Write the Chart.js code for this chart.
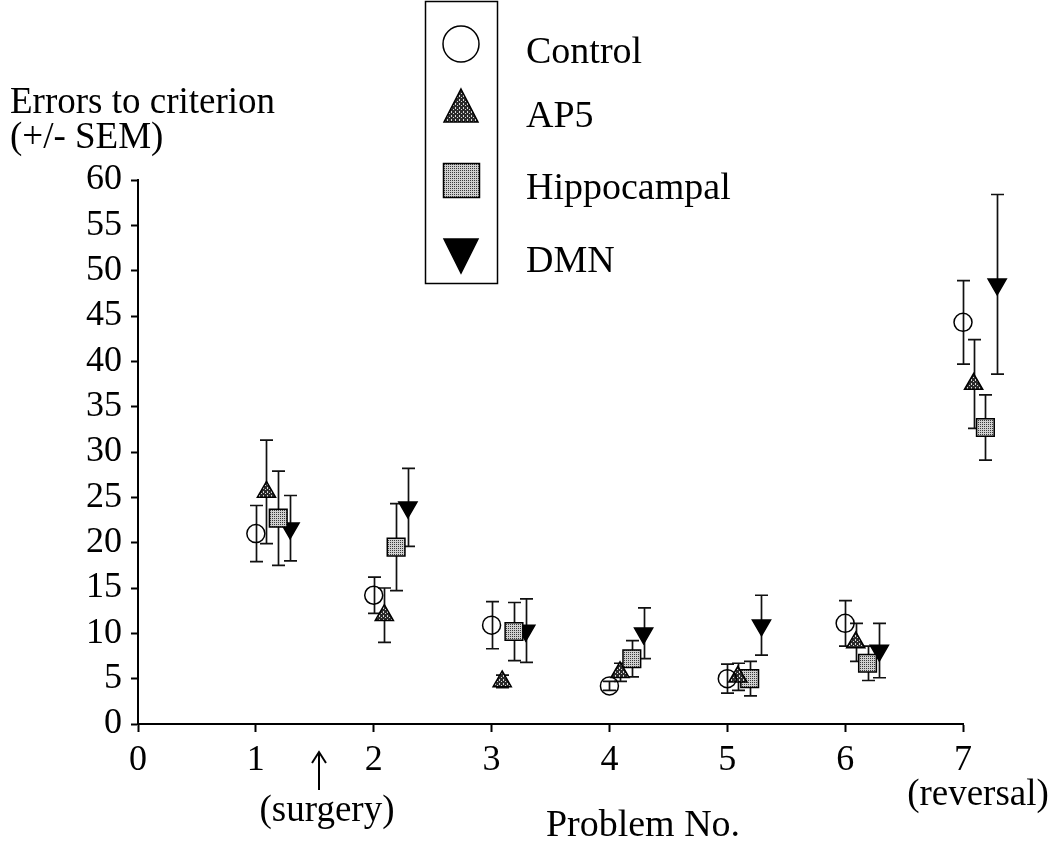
<!DOCTYPE html>
<html>
<head>
<meta charset="utf-8">
<title>Errors to criterion</title>
<script src="https://cdn.jsdelivr.net/npm/chart.js@4.4.0/dist/chart.umd.min.js"></script>
<style>
  html, body { margin: 0; padding: 0; background: #fff; }
  #wrap { width: 1055px; height: 848px; }
</style>
</head>
<body>
<div id="wrap"><canvas id="myChart" width="1055" height="848"></canvas></div>
<script>
// problem numbers and group means / SEM per problem
var problems = [1, 2, 3, 4, 5, 6, 7];
var groupNames = ['Control', 'AP5', 'Hippocampal', 'DMN'];
var groupOffsets = [0, 0.09, 0.19, 0.29];

var controlMeans = [21.0, 14.2, 10.9, 4.2, 5.0, 11.1, 44.3];
var controlSem   = [3.1, 2.0, 2.6, 0.5, 1.6, 2.5, 4.6];
var ap5Means     = [25.6, 12.0, 4.7, 5.7, 5.2, 9.0, 37.5];
var ap5Sem       = [5.7, 3.0, 0.7, 1.0, 1.5, 2.1, 4.9];
var hippMeans    = [22.7, 19.5, 10.2, 7.2, 5.0, 6.7, 32.7];
var hippSem      = [5.2, 4.8, 3.2, 2.0, 1.9, 1.9, 3.6];
var dmnMeans     = [21.6, 23.9, 10.3, 10.0, 10.9, 8.1, 48.5];
var dmnSem       = [3.6, 4.3, 3.5, 2.8, 3.3, 3.0, 9.9];

var xTickLabels = ['0', '1', '2', '3', '4', '5', '6', '7'];
var yTickLabels = ['0', '5', '10', '15', '20', '25', '30', '35', '40', '45', '50', '55', '60'];

var serif = '"Liberation Serif", "Times New Roman", serif';

function makePattern(bg, fg, dots) {
    var c = document.createElement('canvas');
    c.width = 4; c.height = 4;
    var g = c.getContext('2d');
    g.fillStyle = bg;
    g.fillRect(0, 0, 4, 4);
    g.fillStyle = fg;
    dots.forEach(function (d) { g.fillRect(d[0], d[1], 1, 1); });
    return g.createPattern(c, 'repeat');
}

document.addEventListener('DOMContentLoaded', function () {
    var ctx = document.getElementById('myChart').getContext('2d');

    var ap5Fill = makePattern('#2a2a2a', '#d8d8d8', [[1, 1], [3, 3], [3, 0]]);
    var hippFill = makePattern('#cfcfcf', '#3a3a3a', [[0, 0], [2, 2], [2, 0], [0, 2]]);

    function points(means, sems, k) {
        return problems.map(function (p, i) {
            return { x: p + groupOffsets[k], y: means[i], sem: sems[i] };
        });
    }

    var styles = [
        { pointStyle: 'circle', radius: 9, rotation: 0, fill: 'rgba(0,0,0,0)' },
        { pointStyle: 'triangle', radius: 10.5, rotation: 0, fill: ap5Fill },
        { pointStyle: 'rect', radius: 12.5, rotation: 0, fill: hippFill },
        { pointStyle: 'triangle', radius: 10.5, rotation: 180, fill: '#000' }
    ];
    var allMeans = [controlMeans, ap5Means, hippMeans, dmnMeans];
    var allSems = [controlSem, ap5Sem, hippSem, dmnSem];

    var datasets = groupNames.map(function (name, k) {
        return {
            label: name,
            data: points(allMeans[k], allSems[k], k),
            pointStyle: styles[k].pointStyle,
            pointRadius: styles[k].radius,
            pointRotation: styles[k].rotation,
            pointBackgroundColor: styles[k].fill,
            pointBorderColor: '#000',
            pointBorderWidth: 1.5,
            showLine: false,
            clip: false
        };
    });

    // vertical SEM bars with caps, drawn under the markers
    var savedRight = null;
    var errorBars = {
        id: 'errorBars',
        beforeDatasetsDraw: function (chart) {
            var c = chart.ctx, xs = chart.scales.x, ys = chart.scales.y;
            c.save();
            c.strokeStyle = '#111';
            c.lineWidth = 1.7;
            chart.data.datasets.forEach(function (ds) {
                ds.data.forEach(function (p) {
                    var px = Math.round(xs.getPixelForValue(p.x)) + 0.5;
                    var top = ys.getPixelForValue(p.y + p.sem);
                    var bot = ys.getPixelForValue(p.y - p.sem);
                    c.beginPath();
                    c.moveTo(px, top); c.lineTo(px, bot);
                    c.moveTo(px - 6.5, top); c.lineTo(px + 6.5, top);
                    c.moveTo(px - 6.5, bot); c.lineTo(px + 6.5, bot);
                    c.stroke();
                });
            });
            c.restore();
            // the problem 7 markers sit a little right of x = 7; widen the area
            // while points draw so they are not skipped
            savedRight = chart.chartArea.right;
            chart.chartArea.right = savedRight + 60;
        },
        afterDatasetsDraw: function (chart) {
            if (savedRight !== null) {
                chart.chartArea.right = savedRight;
                savedRight = null;
            }
        }
    };

    // titles, surgery / reversal notes and the boxed key
    var notes = {
        id: 'notes',
        afterDraw: function (chart) {
            var c = chart.ctx;
            c.save();
            c.fillStyle = '#000';
            c.strokeStyle = '#000';
            c.font = '37px ' + serif;
            c.textBaseline = 'alphabetic';
            c.textAlign = 'left';
            c.fillText('Errors to criterion', 10, 113);
            c.fillText('(+/- SEM)', 10, 148);

            c.textAlign = 'center';
            c.fillText('(surgery)', 327, 821);
            c.fillText('(reversal)', 978, 805);
            c.font = '38px ' + serif;
            c.fillText('Problem No.', 643, 836);

            // surgery arrow
            c.lineWidth = 2;
            c.beginPath();
            c.moveTo(319, 790); c.lineTo(319, 753);
            c.moveTo(312, 763); c.lineTo(319, 752); c.lineTo(326, 763);
            c.stroke();

            // key box
            c.lineWidth = 1.5;
            c.strokeRect(425.5, 1.5, 72, 282);

            var kx = 461;
            c.lineWidth = 1.5;
            c.beginPath();
            c.arc(kx, 44, 18, 0, Math.PI * 2);
            c.stroke();

            c.beginPath();
            c.moveTo(kx, 89); c.lineTo(kx + 17, 122); c.lineTo(kx - 17, 122); c.closePath();
            c.fillStyle = ap5Fill; c.fill(); c.stroke();

            c.beginPath();
            c.rect(443.5, 163.5, 36, 34);
            c.fillStyle = hippFill; c.fill(); c.stroke();

            c.beginPath();
            c.moveTo(kx - 17, 239); c.lineTo(kx + 17, 239); c.lineTo(kx, 273); c.closePath();
            c.fillStyle = '#000'; c.fill(); c.stroke();

            c.fillStyle = '#000';
            c.font = '38px ' + serif;
            c.textAlign = 'left';
            var keyY = [63, 127, 199, 272];
            groupNames.forEach(function (n, i) { c.fillText(n, 526, keyY[i]); });
            c.restore();
        }
    };

    var myChart = new Chart(ctx, {
        type: 'scatter',
        data: { datasets: datasets },
        options: {
            responsive: false,
            animation: false,
            layout: { padding: { left: 0, right: 92, top: 180, bottom: 0 } },
            plugins: {
                legend: { display: false },
                tooltip: { enabled: false }
            },
            scales: {
                x: {
                    type: 'linear',
                    min: 0,
                    max: 7,
                    afterFit: function (scale) { scale.height = 124; },
                    border: { display: true, color: '#000', width: 2 },
                    grid: { drawOnChartArea: false, drawTicks: true, tickLength: 8, tickColor: '#000', tickWidth: 2 },
                    ticks: {
                        stepSize: 1,
                        padding: 7,
                        autoSkip: false,
                        maxRotation: 0,
                        color: '#000',
                        font: { family: serif, size: 36 },
                        callback: function (v) { return xTickLabels[v]; }
                    }
                },
                y: {
                    type: 'linear',
                    min: 0,
                    max: 60,
                    afterFit: function (scale) { scale.width = 138; },
                    border: { display: true, color: '#000', width: 2 },
                    grid: { drawOnChartArea: false, drawTicks: true, tickLength: 7, tickColor: '#000', tickWidth: 2 },
                    ticks: {
                        stepSize: 5,
                        padding: 9,
                        autoSkip: false,
                        color: '#000',
                        font: { family: serif, size: 36 },
                        callback: function (v) { return yTickLabels[v / 5]; }
                    }
                }
            }
        },
        plugins: [errorBars, notes]
    });
});
</script>
</body>
</html>
